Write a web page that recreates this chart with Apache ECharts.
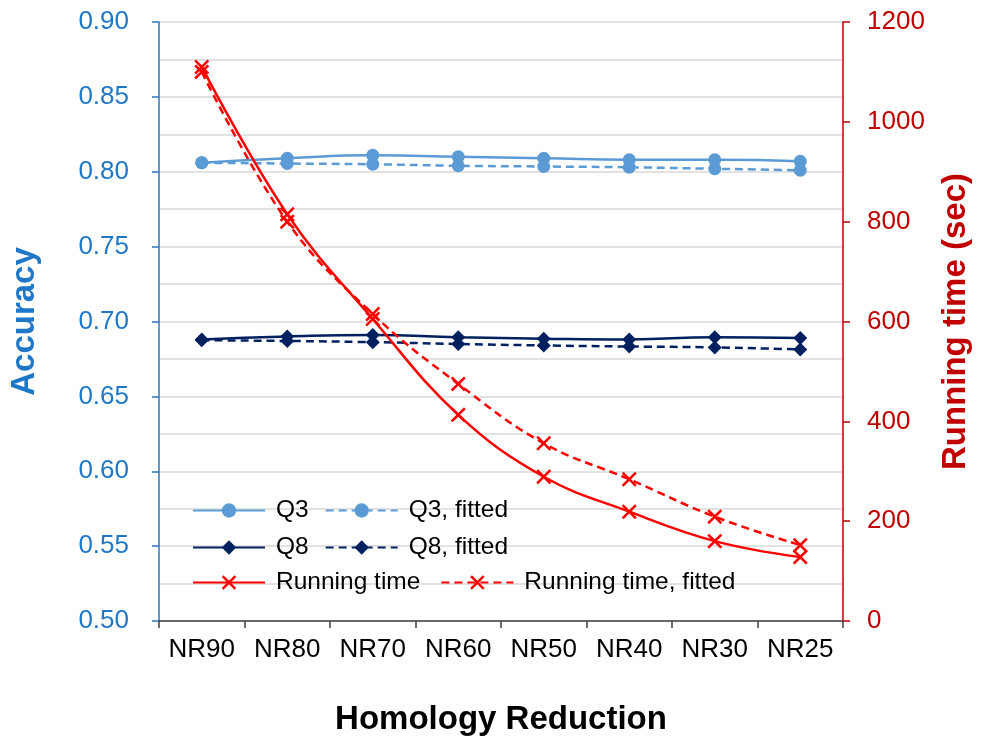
<!DOCTYPE html>
<html>
<head>
	<meta charset="utf-8"/>
	<title>Homology Reduction</title>
	<style>
		html, body { margin: 0; padding: 0; background: #fff; }
		#chart { width: 988px; height: 736px; }
	</style>
</head>
<body>
	<div id="chart"></div>
	<script src="https://cdn.jsdelivr.net/npm/echarts@6/dist/echarts.min.js"></script>
	<script>
		var categories = ['NR90', 'NR80', 'NR70', 'NR60', 'NR50', 'NR40', 'NR30', 'NR25'];
		var q3 = [0.806, 0.809, 0.811, 0.810, 0.809, 0.808, 0.808, 0.807];
		var q3Fitted = [0.806, 0.8055, 0.805, 0.804, 0.8035, 0.803, 0.802, 0.801];
		var q8 = [0.688, 0.690, 0.691, 0.6895, 0.6885, 0.688, 0.6895, 0.689];
		var q8Fitted = [0.6875, 0.687, 0.6862, 0.685, 0.684, 0.6833, 0.6827, 0.6813];
		var runTime = [1110, 815, 605, 413, 289, 219, 160, 128];
		var runTimeFitted = [1100, 800, 615, 475, 356, 284, 209, 152];

		var FONT = 'Liberation Sans, Arial, sans-serif';
		var BLUE = '#5B9BD5';
		var NAVY = '#002060';
		var RED = '#FF0000';
		// X shaped marker, filled so it keeps its stroke width
		var CROSS = 'path://M0,1.2L1.2,0L5,3.8L8.8,0L10,1.2L6.2,5L10,8.8L8.8,10L5,6.2L1.2,10L0,8.8L3.8,5Z';

		function line(name, data, color, dashed, symbol, size, yIdx) {
			return {
				name: name,
				type: 'line',
				data: data,
				yAxisIndex: yIdx,
				smooth: yIdx ? 0.4 : true,
				symbol: symbol,
				symbolSize: size,
				showAllSymbol: true,
				itemStyle: { color: color },
				lineStyle: { color: color, width: 2.5, type: dashed ? [8, 5] : 'solid' },
				z: yIdx ? 3 : 2
			};
		}

		function legendRow(top, names, gap) {
			return {
				left: 192,
				top: top,
				padding: 0,
				orient: 'horizontal',
				itemWidth: 72,
				itemHeight: 18,
				itemGap: gap,
				data: names,
				textStyle: { fontFamily: FONT, fontSize: 24.5, color: '#000', padding: [0, 0, 0, 6] }
			};
		}

		var myChart = echarts.init(document.getElementById('chart'));

		var option = {
			animation: false,
			backgroundColor: '#fff',
			grid: { left: 159, right: 145, top: 22, bottom: 115, outerBoundsMode: 'none' },
			legend: [
				legendRow(498, ['Q3', 'Q3, fitted'], 16),
				legendRow(535, ['Q8', 'Q8, fitted'], 16),
				legendRow(570, ['Running time', 'Running time, fitted'], 20)
			],
			xAxis: {
				type: 'category',
				data: categories,
				boundaryGap: true,
				axisLine: { lineStyle: { color: '#404040', width: 1.5 } },
				axisTick: { show: true, interval: 0, length: 7, lineStyle: { color: '#404040', width: 1.5 } },
				axisLabel: { interval: 0, fontFamily: FONT, fontSize: 26, color: '#000', margin: 16 },
				name: 'Homology Reduction',
				nameLocation: 'middle',
				nameGap: 82,
				nameTextStyle: { fontFamily: FONT, fontSize: 33, fontWeight: 'bold', color: '#000' }
			},
			yAxis: [
				{
					type: 'value',
					min: 0.5,
					max: 0.9,
					interval: 0.05,
					axisLine: { show: true, lineStyle: { color: '#2E75B6', width: 1.5 } },
					axisTick: { show: true, length: 7, lineStyle: { color: '#2E75B6', width: 1.5 } },
					axisLabel: {
						fontFamily: FONT, fontSize: 26, color: '#1F77C8', margin: 30,
						formatter: function (v) { return v.toFixed(2); }
					},
					splitLine: { show: true, lineStyle: { color: '#D9D9D9', width: 1.5 } },
					minorTick: { show: false, splitNumber: 2 },
					minorSplitLine: { show: true, lineStyle: { color: '#D9D9D9', width: 1.5 } },
					name: 'Accuracy',
					nameLocation: 'middle',
					nameGap: 118,
					nameTextStyle: { fontFamily: FONT, fontSize: 33, fontWeight: 'bold', color: '#1F77C8' }
				},
				{
					type: 'value',
					min: 0,
					max: 1200,
					interval: 200,
					position: 'right',
					axisLine: { show: true, lineStyle: { color: '#C00000', width: 1.5 } },
					axisTick: { show: true, length: 7, lineStyle: { color: '#C00000', width: 1.5 } },
					axisLabel: {
						fontFamily: FONT, fontSize: 26, color: '#C00000', margin: 24,
						formatter: function (v) { return String(v); }
					},
					splitLine: { show: false },
					name: 'Running time (sec)',
					nameLocation: 'middle',
					nameGap: 96,
					nameTextStyle: { fontFamily: FONT, fontSize: 33, fontWeight: 'bold', color: '#C00000' }
				}
			],
			series: [
				line('Q3', q3, BLUE, false, 'circle', 13, 0),
				line('Q3, fitted', q3Fitted, BLUE, true, 'circle', 13, 0),
				line('Q8', q8, NAVY, false, 'diamond', 14, 0),
				line('Q8, fitted', q8Fitted, NAVY, true, 'diamond', 14, 0),
				line('Running time', runTime, RED, false, CROSS, 15, 1),
				line('Running time, fitted', runTimeFitted, RED, true, CROSS, 15, 1)
			]
		};

		myChart.setOption(option);
		window.addEventListener('resize', function () {
			myChart.resize();
		});
	</script>
</body>
</html>
